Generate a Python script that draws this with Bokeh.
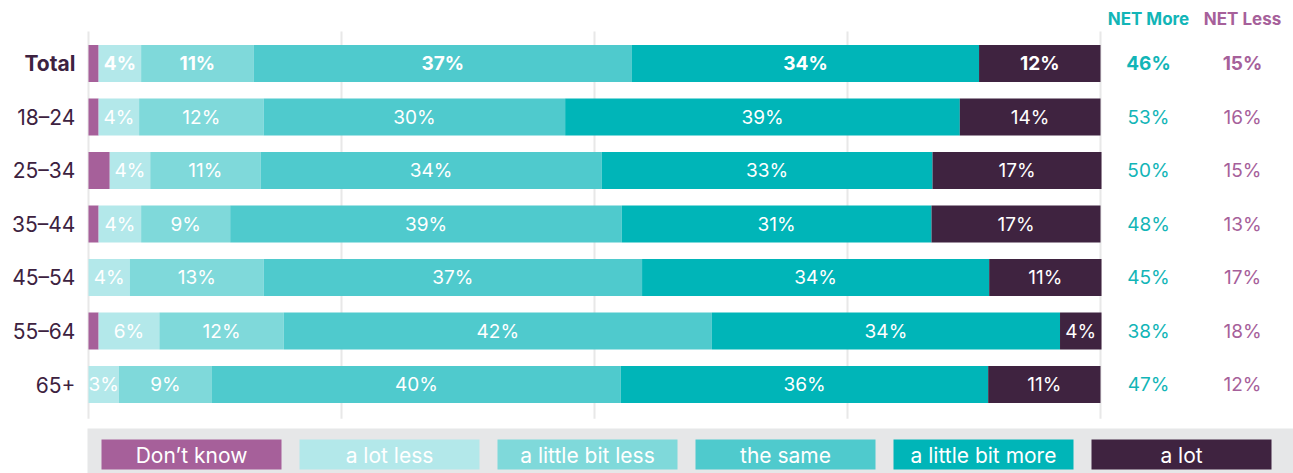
import numpy as np
from bokeh.plotting import figure
from bokeh.models import ColumnDataSource, Range1d
from bokeh.core.properties import value
from bokeh.embed import file_html
from bokeh.resources import INLINE

# ---------------- data ----------------
groups = ["Total", "18–24", "25–34", "35–44", "45–54", "55–64", "65+"]
segments = ["Don’t know", "a lot less", "a little bit less", "the same", "a little bit more", "a lot"]
dont_know = [1.0, 1.0, 2.1, 1.0, 0.0, 1.0, 0.0]
a_lot_less = [4.2, 4.0, 4.0, 4.2, 4.1, 6.0, 3.0]
a_little_less = [11.1, 12.3, 10.9, 8.8, 13.2, 12.3, 9.2]
the_same = [37.4, 29.8, 33.7, 38.7, 37.4, 42.3, 40.4]
a_little_more = [34.3, 39.0, 32.7, 30.6, 34.3, 34.4, 36.3]
a_lot = [12.0, 13.9, 16.7, 16.7, 11.1, 4.1, 11.1]
net_more = [46, 53, 50, 48, 45, 38, 47]
net_less = [15, 16, 15, 13, 17, 18, 12]
grid_ticks = [0, 25, 50, 75, 100]

colors = ["#a6609a", "#b3e8ea", "#7fd9da", "#4fcacd", "#00b5b8", "#3f2340"]
TEAL = "#12b5b7"
PURPLE = "#a6609a"
DARK = "#3d2240"
FONT = "Inter"

series = [dont_know, a_lot_less, a_little_less, the_same, a_little_more, a_lot]

W, H = 1293, 473
px_per = 10.12
x0_px = 88.0
row0_px = 63.0
row_px = 53.5

p = figure(width=W, height=H, output_backend="svg", toolbar_location=None,
           x_range=Range1d(-x0_px / px_per, (W - x0_px) / px_per),
           y_range=Range1d((H - row0_px) / row_px, -row0_px / row_px),
           min_border=0, outline_line_color=None)
p.axis.visible = False
p.grid.visible = False
p.background_fill_color = "white"
p.border_fill_color = "white"

n = len(groups)
rows = np.arange(n)

# gridlines
p.segment(x0=grid_ticks, x1=grid_ticks, y0=[-0.60] * len(grid_ticks), y1=[6.64] * len(grid_ticks),
          line_color="#e8e8e8", line_width=2)

# stacked bars
left = np.zeros(n)
for k, (name, vals) in enumerate(zip(segments, series)):
    vals = np.array(vals)
    right = left + vals
    src = ColumnDataSource(dict(y=rows, left=left, right=right))
    p.hbar(y="y", left="left", right="right", height=0.69, source=src,
           fill_color=colors[k], line_color=None)
    if k > 0:
        mid = (left + right) / 2
        lab = [f"{int(round(v))}%" for v in vals]
        for bold in (True, False):
            idx = [i for i in range(n) if (i == 0) == bold and vals[i] > 0]
            if not idx:
                continue
            p.text(x=[mid[i] for i in idx], y=[rows[i] for i in idx], text=[lab[i] for i in idx],
                   text_align="center", text_baseline="middle", text_color="white",
                   text_font=value(FONT), text_font_size="19px",
                   text_font_style="bold" if bold else "normal")
    left = right

# category labels
for bold in (True, False):
    idx = [i for i in range(n) if (i == 0) == bold]
    p.text(x=[-1.3] * len(idx), y=[rows[i] for i in idx], text=[groups[i] for i in idx],
           text_align="right", text_baseline="middle", text_color=DARK,
           text_font=value(FONT), text_font_size="21px",
           text_font_style="bold" if bold else "normal")

# NET columns
xm, xl = 104.74, 114.03
p.text(x=[xm], y=[-0.84], text=["NET More"], text_align="center", text_baseline="middle",
       text_color=TEAL, text_font=value(FONT), text_font_size="17px", text_font_style="bold")
p.text(x=[xl], y=[-0.84], text=["NET Less"], text_align="center", text_baseline="middle",
       text_color=PURPLE, text_font=value(FONT), text_font_size="17px", text_font_style="bold")
for bold in (True, False):
    idx = [i for i in range(n) if (i == 0) == bold]
    p.text(x=[xm] * len(idx), y=[rows[i] for i in idx], text=[f"{net_more[i]}%" for i in idx],
           text_align="center", text_baseline="middle", text_color=TEAL,
           text_font=value(FONT), text_font_size="19px",
           text_font_style="bold" if bold else "normal")
    p.text(x=[xl] * len(idx), y=[rows[i] for i in idx], text=[f"{net_less[i]}%" for i in idx],
           text_align="center", text_baseline="middle", text_color=PURPLE,
           text_font=value(FONT), text_font_size="19px",
           text_font_style="bold" if bold else "normal")

# legend (custom)
leg_y0 = (428 - row0_px) / row_px
leg_y1 = (H - row0_px) / row_px
p.quad(left=[-0.1], right=[(W - x0_px) / px_per], bottom=[leg_y1], top=[leg_y0],
       fill_color="#e6e7e8", line_color=None)
box_w = 180 / px_per
gap = 18 / px_per
start = 13 / px_per
lx = [start + box_w / 2 + i * (box_w + gap) for i in range(len(segments))]
ly = (454 - row0_px) / row_px
p.rect(x=lx, y=[ly] * len(segments), width=box_w, height=30 / row_px,
       fill_color=colors, line_color=None)
p.text(x=lx, y=[ly + 0.01] * len(segments), text=segments, text_align="center",
       text_baseline="middle", text_color="white", text_font=value(FONT), text_font_size="21px")

open("out.html", "w").write(file_html(p, INLINE))
